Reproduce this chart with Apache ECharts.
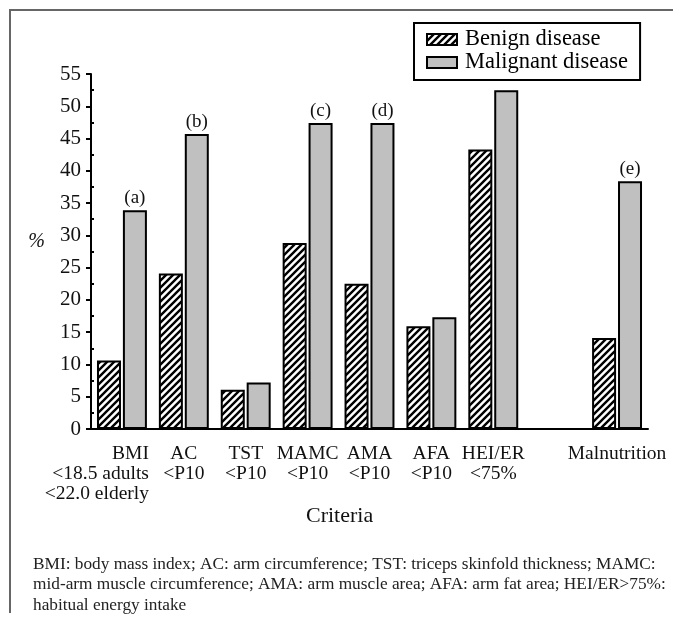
<!DOCTYPE html>
<html><head><meta charset="utf-8">
<script src="https://cdn.jsdelivr.net/npm/echarts@6/dist/echarts.min.js"></script>
<style>html,body{margin:0;padding:0;background:#fff}#c{width:673px;height:620px}</style>
</head><body><div id="c"></div>
<script>
const categories = ['BMI\n<18.5 adults\n<22.0 elderly','AC\n<P10','TST\n<P10','MAMC\n<P10','AMA\n<P10','AFA\n<P10','HEI/ER\n<75%','','Malnutrition'];
const benign = [10.6, 24.1, 6.1, 28.8, 22.5, 15.9, 43.3, '-', 14.1];
const malignant = [33.9, 45.7, 7.2, 47.4, 47.4, 17.3, 52.5, '-', 38.4];
const annotations = ['(a)','(b)','','(c)','(d)','','','','(e)'];
const seriesNames = ['Benign disease','Malignant disease'];
const footnote = 'BMI: body mass index; AC: arm circumference; TST: triceps skinfold thickness; MAMC:\nmid-arm muscle circumference; AMA: arm muscle area; AFA: arm fat area; HEI/ER>75%:\nhabitual energy intake';

const FF = '"Liberation Serif", "DejaVu Serif", serif';
function hatch(){
  const s = 7;
  const c = document.createElement('canvas'); c.width = s; c.height = s;
  const g = c.getContext('2d');
  g.fillStyle = '#fff'; g.fillRect(0,0,s,s);
  g.strokeStyle = '#000'; g.lineWidth = 2.4;
  g.beginPath();
  g.moveTo(0,s); g.lineTo(s,0);
  g.moveTo(-2,2); g.lineTo(2,-2);
  g.moveTo(s-2,s+2); g.lineTo(s+2,s-2);
  g.stroke();
  return c;
}
const chart = echarts.init(document.getElementById('c'), null, {renderer:'canvas'});
chart.setOption({
  animation:false,
  textStyle:{fontFamily:FF,color:'#000'},
  title:[
    {text:'Criteria', left:306, top:505, padding:0, textStyle:{fontSize:22,fontWeight:'normal',fontFamily:FF,color:'#111'}},
    {text:footnote, left:33, top:554, padding:0, textStyle:{fontSize:17.3,lineHeight:20.5,fontWeight:'normal',fontFamily:FF,color:'#222'}}
  ],
  graphic:[{type:'polyline', shape:{points:[[673,10],[10,10],[10,613]]}, style:{stroke:'#666',lineWidth:2,fill:null}}],
  legend:{
    orient:'vertical', left:414, top:23, padding:[5,12,6,12], itemGap:0,
    borderColor:'#000', borderWidth:2, backgroundColor:'#fff',
    itemWidth:30, itemHeight:11, icon:'rect',
    textStyle:{fontSize:22.5,lineHeight:22,fontFamily:FF,color:'#000',padding:[0,0,0,3]},
    data:seriesNames
  },
  grid:{left:91,right:25,top:74,bottom:191},
  xAxis:{
    type:'category', data:categories, boundaryGap:true,
    axisLine:{lineStyle:{color:'#000',width:2}},
    axisTick:{inside:true,length:5,lineStyle:{color:'#000',width:2}},
    axisLabel:{
      interval:0, margin:15, fontSize:19.5, lineHeight:20, fontFamily:FF, color:'#111',
      formatter:function(v,i){
        if(i===0){ return v.split('\n').map(s=>'{r|'+s+'}').join('\n'); }
        return v;
      },
      rich:{r:{width:54,align:'right',fontSize:19.5,lineHeight:20,fontFamily:FF,color:'#111'}}
    }
  },
  yAxis:{
    type:'value', min:0, max:55, interval:5,
    name:'%', nameLocation:'middle', nameRotate:0, nameGap:46,
    nameTextStyle:{fontSize:20,fontFamily:FF,fontStyle:'italic',color:'#111',verticalAlign:'bottom'},
    axisLine:{show:true,lineStyle:{color:'#000',width:2}},
    axisTick:{show:true,length:5,lineStyle:{color:'#000',width:2}},
    minorTick:{show:true,splitNumber:2,length:-3,lineStyle:{color:'#000',width:2}},
    splitLine:{show:false},
    axisLabel:{fontSize:21,fontFamily:FF,color:'#111',margin:10}
  },
  series:[
    {name:seriesNames[0], type:'bar', data:benign, barWidth:24, barGap:'8%',
     itemStyle:{color:{image:hatch(),repeat:'repeat'}, borderColor:'#000', borderWidth:2}},
    {name:seriesNames[1], type:'bar', data:malignant, barWidth:24,
     itemStyle:{color:'#c0c0c0', borderColor:'#000', borderWidth:2},
     label:{show:true, position:'top', distance:3, fontSize:19, fontFamily:FF, color:'#111',
       formatter:p=>annotations[p.dataIndex]}}
  ]
});
</script></body></html>
